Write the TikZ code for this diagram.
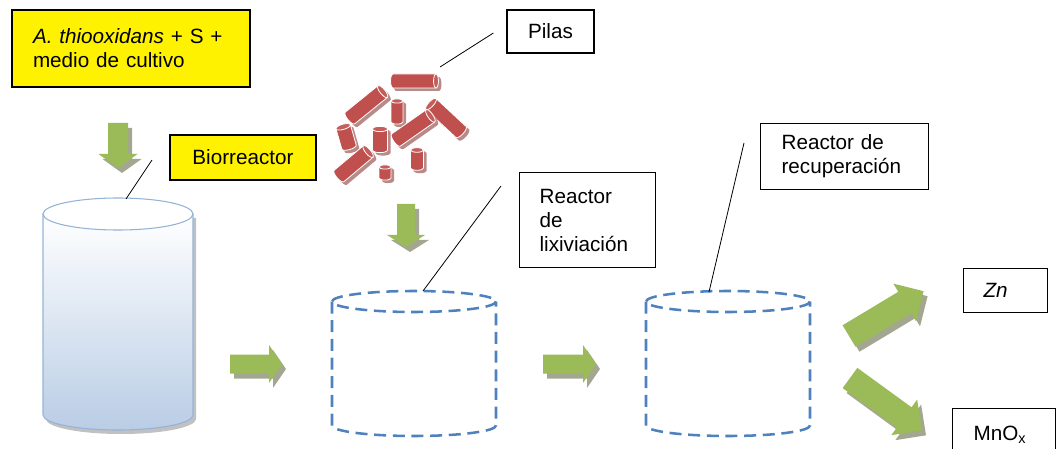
\documentclass[tikz,border=0pt]{standalone}
\usepackage{fontspec}
\setmainfont{Liberation Sans}
\usetikzlibrary{calc}

\definecolor{verdeflecha}{HTML}{9BBB59}
\definecolor{sombraverde}{HTML}{A4A78F}
\definecolor{rojopila}{HTML}{C0504D}
\definecolor{sombrapila}{HTML}{B88A88}
\definecolor{azultanque}{HTML}{4F81BD}
\definecolor{bordebio}{HTML}{95B3D7}
\definecolor{fondobio}{HTML}{B9CDE5}

\tikzset{
	caja/.style={draw=black, line width=0.9pt, fill=white, inner ysep=0pt, align=left},
	amarilla/.style={caja, fill=yellow, line width=1.5pt},
	guia/.style={draw=black, line width=0.6pt},
	tanque/.style={draw=azultanque, line width=1.9pt, dash pattern=on 9pt off 5pt}
}

% block arrow: tail (x,y), angle:length:shaft half:head half:head length
\def\flecha(#1)(#2:#3:#4:#5:#6){
	\fill[sombraverde, shift={(#1)}, shift={(4,5)}, rotate=#2] (0,-#4) -- ({#3-#6},-#4) -- ({#3-#6},-#5) -- (#3,0) -- ({#3-#6},#5) -- ({#3-#6},#4) -- (0,#4) -- cycle;
	\fill[verdeflecha, shift={(#1)}, rotate=#2] (0,-#4) -- ({#3-#6},-#4) -- ({#3-#6},-#5) -- (#3,0) -- ({#3-#6},#5) -- ({#3-#6},#4) -- (0,#4) -- cycle;
}
% one battery: tail (x,y), angle:length:half width
\def\pila(#1)(#2:#3:#4){
	\fill[sombrapila, shift={(#1)}, shift={(3,3)}, rotate=#2] (0,-#4) -- (#3,-#4) -- (#3,#4) -- (0,#4) arc[start angle=90, end angle=270, x radius={0.35*#4}, y radius=#4] -- cycle (#3,0) ellipse [x radius={0.35*#4}, y radius=#4];
	\draw[white, line width=0.6pt, fill=rojopila, shift={(#1)}, rotate=#2] (0,-#4) -- (#3,-#4) -- (#3,#4) -- (0,#4) arc[start angle=90, end angle=270, x radius={0.35*#4}, y radius=#4] -- cycle;
	\draw[white, line width=0.6pt, fill=rojopila!92!white, shift={(#1)}, rotate=#2] (#3,0) ellipse [x radius={0.35*#4}, y radius=#4];
}
% dashed tank centred at x
\def\tanque(#1){
	\draw[tanque] (#1,301.5) ellipse (82 and 10.5);
	\draw[tanque] ({#1-82},301.5) -- ({#1-82},425.5) arc[start angle=180, end angle=0, x radius=82, y radius=10.5] -- ({#1+82},301.5);
}

\begin{document}
\begin{tikzpicture}[x=0.75pt, y=-0.75pt, font=\fontsize{15.5}{18}\selectfont]
	%%%%% START %%%%%
	\useasboundingbox (0,0) rectangle (1057,449);
	\clip (0,0) rectangle (1057,449);
	
	\fill[black!35, opacity=0.7, shift={(3,4)}] (43,214) -- (43,415) arc[start angle=180, end angle=0, x radius=75, y radius=15] -- (193,214) -- cycle;
	\draw[bordebio, line width=0.8pt, top color=white, bottom color=fondobio] (43,214) -- (43,415) arc[start angle=180, end angle=0, x radius=75, y radius=15] -- (193,214) -- cycle;
	\draw[bordebio, line width=0.8pt, fill=white] (118,214) ellipse (75 and 16);
	
	\tanque(414)
	\tanque(728)
	
	\pila(393,81)(0:43:7)
	\pila(350,118)(39:42:7.5)
	\pila(397,122)(90:21:6)
	\pila(461,132)(137:41:7.5)
	\pila(349,147)(106:21:7.5)
	\pila(380,150)(90:21:7.5)
	\pila(396,140)(35:42:7.5)
	\pila(339,176)(40:38:7.5)
	\pila(385,178)(90:11:6)
	\pila(417,168)(90:18:6.5)
	
	\flecha(118,123)(-90:45:10:19.5:14)
	\flecha(406,204)(-90:43:9:19:12)
	\flecha(230,364)(0:52:9.5:19:13)
	\flecha(543,364)(0:53:9.5:19:13)
	\flecha(849,336)(31:87:12.5:22:22)
	\flecha(850,378)(-36:89:12.5:22:22)
	
	\node[amarilla, anchor=north west, inner xsep=15.75pt, text width=147pt, minimum height=57.75pt] (cultivo) at (11,9) {\textit{A. thiooxidans} + S +\\medio de cultivo};
	\node[amarilla, align=center, minimum width=109.5pt, minimum height=33.75pt] (biorreactor) at (243,157.5) {Biorreactor};
	\node[caja, align=center, minimum width=65.25pt, minimum height=32.25pt] (pilas) at (550.5,31.5) {Pilas};
	\node[caja, anchor=north west, inner xsep=15pt, text width=72pt, minimum height=71.25pt] (lixiviacion) at (519,172) {Reactor\\de\\lixiviación};
	\node[caja, anchor=north west, inner xsep=15.75pt, text width=94.5pt, minimum height=49.5pt] (recuperacion) at (760,123) {Reactor de\\recuperación};
	\node[caja, anchor=north west, inner xsep=15pt, text width=33pt, minimum height=33pt] (zinc) at (963,268) {\textit{Zn}};
	\node[caja, anchor=north west, inner xsep=15.75pt, text width=45.75pt, minimum height=39pt] (oxido) at (952,408) {MnO\textsubscript{x}};
	
	\coordinate (topeBio) at (126,199);
	\coordinate (monton) at (440,67);
	\coordinate (topeLix) at (423,291);
	\coordinate (topeRecu) at (709,292);
	\draw[guia] ($(biorreactor.west)+(-17,2.5)$) -- (topeBio);
	\draw[guia] ($(pilas.west)+(-13,1.5)$) -- (monton);
	\draw[guia] ($(lixiviacion.north west)+(-18,14)$) -- (topeLix);
	\draw[guia] ($(recuperacion.north west)+(-16,20)$) -- (topeRecu);
	
	%%%%% END %%%%%
\end{tikzpicture}
\end{document}
